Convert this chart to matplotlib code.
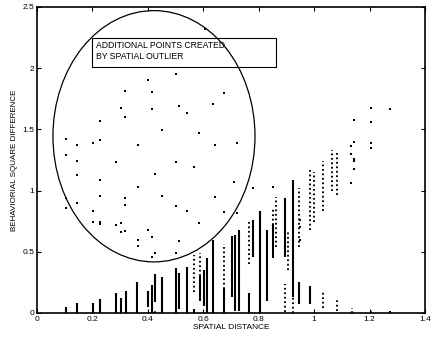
import matplotlib
matplotlib.use("Agg")
import matplotlib.pyplot as plt
from matplotlib.patches import Ellipse, Rectangle

plt.rcParams['font.family'] = ['Liberation Sans', 'DejaVu Sans']

# points created by the spatial outlier (inside the ellipse)
out_x = [0.402, 0.319, 0.302, 0.319, 0.227, 0.104, 0.227, 0.203, 0.143, 0.364,
         0.104, 0.143, 0.286, 0.143, 0.227, 0.364, 0.227, 0.104, 0.319, 0.143,
         0.319, 0.104, 0.203, 0.203, 0.227, 0.227, 0.286, 0.302, 0.302, 0.319,
         0.402, 0.364, 0.364, 0.502, 0.415, 0.673, 0.512, 0.635, 0.540, 0.415,
         0.450, 0.585, 0.723, 0.642, 0.502, 0.568, 0.427, 0.709, 0.781, 0.450,
         0.642, 0.502, 0.540, 0.673, 0.723, 0.585, 0.415, 0.512, 0.427, 0.502,
         0.415, 0.606, 0.851]
out_y = [1.904, 1.816, 1.675, 1.601, 1.569, 1.424, 1.413, 1.391, 1.375, 1.375,
         1.288, 1.244, 1.234, 1.127, 1.089, 1.032, 0.956, 0.942, 0.940, 0.901,
         0.882, 0.858, 0.833, 0.743, 0.746, 0.727, 0.721, 0.733, 0.662, 0.667,
         0.676, 0.596, 0.550, 1.953, 1.808, 1.800, 1.689, 1.710, 1.634, 1.667,
         1.495, 1.473, 1.391, 1.375, 1.236, 1.190, 1.133, 1.073, 1.024, 0.956,
         0.950, 0.877, 0.831, 0.825, 0.817, 0.735, 0.623, 0.588, 0.493, 0.493,
         0.460, 2.318, 1.027]

# dense columns of normal points: distance, lowest and highest value
dense_x = [0.104, 0.144, 0.203, 0.227, 0.285, 0.302, 0.320, 0.362, 0.402, 0.414,
           0.426, 0.450, 0.502, 0.514, 0.540, 0.568, 0.604, 0.612, 0.636, 0.673,
           0.705, 0.715, 0.729, 0.765, 0.781, 0.805, 0.829, 0.851, 0.895, 0.923,
           0.947, 0.986, 0.588]
dense_lo = [0.0, 0.0, 0.0, 0.0, 0.0, 0.0, 0.0, 0.0, 0.05, 0.0,
            0.09, 0.0, 0.0, 0.03, 0.0, 0.0, 0.06, 0.0, 0.0, 0.0,
            0.13, 0.02, 0.02, 0.0, 0.46, 0.0, 0.10, 0.45, 0.46, 0.13,
            0.07, 0.07, 0.10]
dense_hi = [0.045, 0.08, 0.084, 0.117, 0.161, 0.125, 0.177, 0.251, 0.18, 0.226,
            0.319, 0.297, 0.365, 0.327, 0.378, 0.03, 0.35, 0.45, 0.60, 0.20,
            0.63, 0.64, 0.68, 0.16, 0.76, 0.83, 0.68, 0.72, 0.94, 1.09,
            0.25, 0.22, 0.30]

# sparser columns (individual points still visible)
sparse_x = [0.426, 0.568, 0.588, 0.673, 0.765, 0.851, 0.863, 0.895, 0.904, 0.923,
            0.947, 0.986, 1.000, 1.031, 1.031, 1.064, 1.082, 1.082, 1.136, 1.205]
sparse_lo = [0.0, 0.17, 0.30, 0.20, 0.40, 0.72, 0.54, 0.01, 0.35, 0.0,
             0.54, 0.68, 0.74, 0.83, 0.04, 1.00, 0.96, 0.02, 0.0, 0.0]
sparse_hi = [0.03, 0.47, 0.49, 0.56, 0.76, 0.86, 0.95, 0.24, 0.68, 0.13,
             1.02, 1.18, 1.15, 1.24, 0.17, 1.33, 1.31, 0.11, 0.04, 0.02]

# single normal points in the upper right band
pt_x = [1.274, 1.205, 1.205, 1.205, 1.205, 1.142, 1.142, 1.134, 1.134, 1.142,
        1.142, 1.142, 1.134, 0.949, 0.949, 0.949, 1.274]
pt_y = [1.664, 1.677, 1.563, 1.391, 1.346, 1.577, 1.400, 1.364, 1.299, 1.256,
        1.244, 1.176, 1.065, 0.760, 0.700, 0.600, 0.005]

fig = plt.figure(figsize=(4.36, 3.38), dpi=100)
ax = fig.add_axes([0.0849, 0.074, 0.8899, 0.9053])

ax.vlines(dense_x, dense_lo, dense_hi, colors='black', linewidth=1.5)
ax.vlines(sparse_x, sparse_lo, sparse_hi, colors='black', linewidth=1.4,
          linestyles=[(0, (0.9, 1.4))])
ax.plot(pt_x, pt_y, 's', color='black', markersize=1.5, markeredgewidth=0)
ax.plot(out_x, out_y, 's', color='black', markersize=1.5, markeredgewidth=0)

# ellipse around the created points and the label box
ax.add_patch(Ellipse((0.422, 1.444), 0.729, 2.053, fill=False,
                     edgecolor='black', linewidth=0.9))
ax.add_patch(Rectangle((0.197, 2.012), 0.666, 0.237, fill=False,
                       edgecolor='black', linewidth=0.8))
ax.text(0.212, 2.14, 'ADDITIONAL POINTS CREATED\nBY SPATIAL OUTLIER',
        fontsize=6.2, va='center', ha='left', linespacing=1.25)

ax.set_xlim(0, 1.4)
ax.set_ylim(0, 2.5)
ax.set_xticks([0, 0.2, 0.4, 0.6, 0.8, 1.0, 1.2, 1.4])
ax.set_xticklabels(['0', '0.2', '0.4', '0.6', '0.8', '1', '1.2', '1.4'])
ax.set_yticks([0, 0.5, 1.0, 1.5, 2.0, 2.5])
ax.set_yticklabels(['0', '0.5', '1', '1.5', '2', '2.5'])
ax.tick_params(direction='in', top=True, right=True, length=3, width=0.8,
               labelsize=6, pad=2)
for s in ax.spines.values():
    s.set_linewidth(1.2)

ax.set_xlabel('SPATIAL DISTANCE', fontsize=6, labelpad=1)
ax.set_ylabel('BEHAVIORIAL SQUARE DIFFERENCE', fontsize=5.8, labelpad=3)

fig.savefig('out.png', dpi=100)
